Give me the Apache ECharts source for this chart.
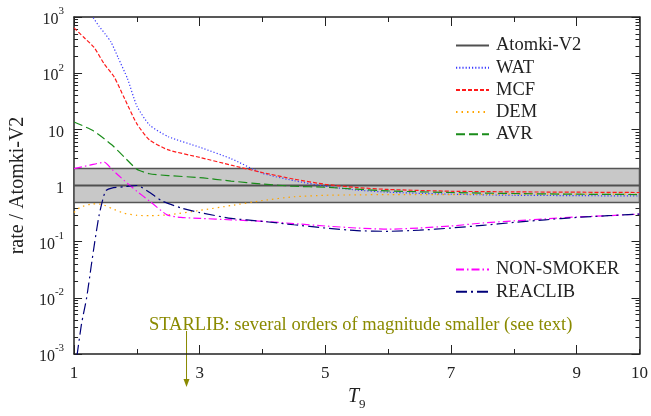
<!DOCTYPE html>
<html lang="en">
<head>
    <meta charset="UTF-8">
    <title>rate ratio</title>
    <script src="https://cdn.jsdelivr.net/npm/echarts@6/dist/echarts.min.js"></script>
    <style>
        html, body { margin: 0; padding: 0; background: #fff; }
        #main { width: 651px; height: 416px; }
    </style>
</head>
<body>
<div id="main"></div>
<script>
    // data: [T9, ratio]
    var atomki = [[1, 1], [10, 1]];
    var wat = [[1.25, 1400], [1.3, 1000], [1.4, 680], [1.5, 490], [1.59, 355], [1.7, 190], [1.85, 80], [2.0, 26],
        [2.2, 12], [2.5, 7.4], [3.0, 4.8], [3.5, 3.0], [4.0, 1.65], [4.5, 1.22], [5, 0.97], [5.5, 0.83], [6, 0.76],
        [7, 0.7], [8, 0.67], [9, 0.66], [10, 0.65]];
    var mcf = [[1.0, 640], [1.15, 440], [1.32, 286], [1.48, 146], [1.64, 85], [1.8, 36], [2.0, 12.5], [2.2, 6.5],
        [2.5, 4.3], [3.0, 3.17], [3.5, 2.3], [4.0, 1.7], [4.5, 1.3], [5, 1.05], [5.5, 0.92], [6, 0.85], [7, 0.79],
        [8, 0.77], [9, 0.76], [10, 0.75]];
    var dem = [[1.0, 0.33], [1.1, 0.41], [1.3, 0.47], [1.45, 0.46], [1.6, 0.39], [1.8, 0.32], [2.0, 0.295],
        [2.2, 0.29], [2.5, 0.30], [3.0, 0.36], [3.5, 0.44], [4.0, 0.54], [4.5, 0.63], [5, 0.67], [5.5, 0.68],
        [6, 0.69], [7, 0.69], [8, 0.7], [9, 0.7], [10, 0.7]];
    var avr = [[1.0, 13.5], [1.3, 9.5], [1.6, 5.3], [1.8, 3.2], [2.0, 1.95], [2.2, 1.62], [2.5, 1.5], [3.0, 1.38],
        [3.5, 1.2], [4.0, 1.06], [4.5, 0.97], [5, 0.93], [5.5, 0.86], [6, 0.8], [7, 0.75], [8, 0.72], [9, 0.7],
        [10, 0.69]];
    var nonSmoker = [[1.0, 2.0], [1.25, 2.3], [1.48, 2.6], [1.6, 1.95], [1.8, 1.22], [2.0, 0.79], [2.2, 0.53],
        [2.48, 0.30], [2.7, 0.27], [3.0, 0.26], [3.5, 0.245], [4, 0.23], [4.5, 0.21], [5, 0.19], [5.5, 0.175],
        [6, 0.167], [6.5, 0.175], [7, 0.19], [7.5, 0.215], [8, 0.235], [8.5, 0.255], [9, 0.275], [9.5, 0.29],
        [10, 0.31]];
    var reaclib = [[1.0, 0.0004], [1.05, 0.001], [1.12, 0.0035], [1.2, 0.01], [1.27, 0.035], [1.33, 0.1],
        [1.4, 0.3], [1.5, 0.8], [1.6, 0.9], [1.8, 0.95], [2.0, 1.0], [2.2, 0.76], [2.4, 0.53], [2.7, 0.4],
        [3.0, 0.33], [3.5, 0.26], [4, 0.23], [4.5, 0.2], [5, 0.175], [5.5, 0.157], [6, 0.153], [6.5, 0.16],
        [7, 0.175], [7.5, 0.195], [8, 0.22], [8.5, 0.245], [9, 0.27], [9.5, 0.29], [10, 0.31]];
    var band = [0.5, 2];

    var xLabelValues = [1, 3, 5, 7, 9, 10];
    var xMajorTicks = [1, 3, 5, 7, 9];
    var yMinorTicks = [];
    [0.001, 0.01, 0.1, 1, 10, 100].forEach(function (d) {
        for (var k = 2; k <= 9; k++) yMinorTicks.push(+(d * k).toPrecision(3));
    });
    var starlibText = 'STARLIB: several orders of magnitude smaller (see text)';
    var starlibT9 = 2.79;

    var FONT = '"Liberation Serif", "DejaVu Serif", serif';
    var AX = '#222';

    function xAxisBase(pos, withLabels) {
        return {
            type: 'value', position: pos, min: 1, max: 10, interval: 1,
            axisLine: {show: true, onZero: false, lineStyle: {color: AX, width: 1.5}},
            axisTick: {show: true, inside: true, length: 5, lineStyle: {color: AX, width: 1}},
            axisLabel: withLabels ? {
                show: true, customValues: xLabelValues, color: AX, fontFamily: FONT, fontSize: 17, margin: 11
            } : {show: false},
            splitLine: {show: false}
        };
    }
    function xAxisMajor(pos) {
        return {
            type: 'value', position: pos, min: 1, max: 10, interval: 1,
            axisLine: {show: false},
            axisTick: {show: true, inside: true, length: 9, customValues: xMajorTicks, lineStyle: {color: AX, width: 1}},
            axisLabel: {show: false},
            splitLine: {show: false}
        };
    }
    function yAxisBase(pos, withLabels) {
        return {
            type: 'log', position: pos, min: 0.001, max: 1000, logBase: 10,
            axisLine: {show: true, onZero: false, lineStyle: {color: AX, width: 1.5}},
            axisTick: {show: true, inside: true, length: 8, lineStyle: {color: AX, width: 1}},
            axisLabel: withLabels ? {
                show: true, color: AX, fontFamily: FONT, margin: 10,
                formatter: function (v) {
                    var e = Math.round(Math.log10(v));
                    if (e === 0) return '{b|1}';
                    if (e === 1) return '{b|10}';
                    return '{b|10}{s|' + e + '}';
                },
                rich: {
                    b: {fontFamily: FONT, fontSize: 16, color: AX, lineHeight: 22, verticalAlign: 'bottom'},
                    s: {fontFamily: FONT, fontSize: 11, color: AX, lineHeight: 22, verticalAlign: 'top'}
                }
            } : {show: false},
            splitLine: {show: false}
        };
    }
    function yAxisMinor(pos) {
        return {
            type: 'log', position: pos, min: 0.001, max: 1000, logBase: 10,
            axisLine: {show: false},
            axisTick: {show: true, inside: true, length: 4, customValues: yMinorTicks, lineStyle: {color: AX, width: 1}},
            axisLabel: {show: false},
            splitLine: {show: false}
        };
    }

    var xAxes = [xAxisBase('bottom', true), xAxisMajor('bottom'), xAxisBase('top', false), xAxisMajor('top')];
    xAxes[0].name = '{i|T}{s|9}';
    xAxes[0].nameLocation = 'middle';
    xAxes[0].nameGap = 33;
    xAxes[0].nameTextStyle = {
        rich: {
            i: {fontFamily: FONT, fontSize: 20, fontStyle: 'italic', color: AX, lineHeight: 24, verticalAlign: 'top'},
            s: {fontFamily: FONT, fontSize: 13, color: AX, lineHeight: 24, verticalAlign: 'bottom'}
        }
    };
    var yAxes = [yAxisBase('left', true), yAxisMinor('left'), yAxisBase('right', false), yAxisMinor('right')];
    yAxes[0].name = 'rate / Atomki-V2';
    yAxes[0].nameLocation = 'middle';
    yAxes[0].nameGap = 42;
    yAxes[0].nameTextStyle = {fontFamily: FONT, fontSize: 20, color: AX};

    function line(name, data, color, type, width) {
        return {
            name: name, type: 'line', data: data, xAxisIndex: 0, yAxisIndex: 0,
            symbol: 'none', showSymbol: false, smooth: 0.2, clip: true, z: 3,
            lineStyle: {color: color, type: type, width: width || 1.2},
            itemStyle: {color: color}
        };
    }

    var atomkiSeries = line('Atomki-V2', atomki, '#505050', 'solid', 2);
    atomkiSeries.smooth = false;
    atomkiSeries.markArea = {
        silent: true, z: 1,
        itemStyle: {color: '#c8c8c8', borderColor: '#555', borderWidth: 1.5},
        data: [[{yAxis: band[0]}, {yAxis: band[1]}]]
    };

    var legendText = {fontFamily: FONT, fontSize: 18.5, color: AX, padding: [0, 0, 0, 2]};
    var myChart = echarts.init(document.getElementById('main'), null, {renderer: 'canvas'});
    var option = {
        animation: false,
        backgroundColor: '#fff',
        grid: {left: 72, right: 8, top: 17, bottom: 56, containLabel: false},
        xAxis: xAxes,
        yAxis: yAxes,
        legend: [{
            data: ['Atomki-V2', 'WAT', 'MCF', 'DEM', 'AVR'],
            orient: 'vertical', left: 450, top: 31, itemWidth: 33, itemHeight: 14, itemGap: 3.2,
            itemStyle: {opacity: 0}, textStyle: legendText
        }, {
            data: ['NON-SMOKER', 'REACLIB'],
            orient: 'vertical', left: 450, top: 255, itemWidth: 33, itemHeight: 14, itemGap: 3.2,
            itemStyle: {opacity: 0}, textStyle: legendText
        }],
        series: [
            atomkiSeries,
            line('WAT', wat, '#3a3aff', [1.2, 2]),
            line('MCF', mcf, '#ff1a1a', [4, 2]),
            line('DEM', dem, '#ffa500', [1.5, 4]),
            line('AVR', avr, '#1a8c1a', [9, 4]),
            line('NON-SMOKER', nonSmoker, '#ff00ff', [8, 3, 1.5, 3]),
            line('REACLIB', reaclib, '#00007a', [11, 4, 2, 4])
        ]
    };
    myChart.setOption(option);

    // STARLIB note with downward arrow, placed from the axis scales
    var ax = myChart.convertToPixel({xAxisIndex: 0}, starlibT9);
    var yBottom = myChart.convertToPixel({yAxisIndex: 0}, 0.001);
    myChart.setOption({
        graphic: [{
            type: 'text', left: 149, top: yBottom - 38,
            style: {text: starlibText, font: '18.5px ' + FONT, fill: '#8a8a00'}
        }, {
            type: 'line', shape: {x1: ax, y1: yBottom - 23, x2: ax, y2: yBottom + 30},
            style: {stroke: '#8a8a00', lineWidth: 1}
        }, {
            type: 'polygon', shape: {points: [[ax - 3, yBottom + 25], [ax + 3, yBottom + 25], [ax, yBottom + 33]]},
            style: {fill: '#8a8a00'}
        }]
    });
</script>
</body>
</html>
